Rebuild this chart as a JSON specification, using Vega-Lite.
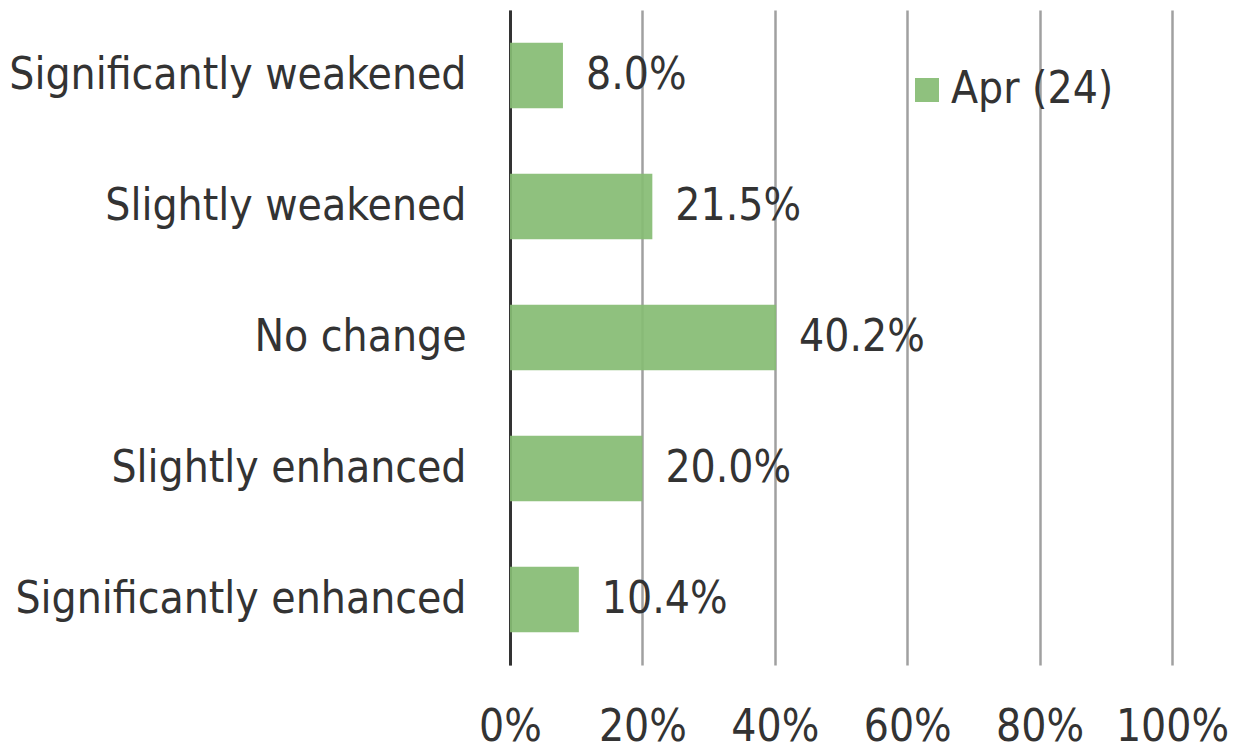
{
  "$schema": "https://vega.github.io/schema/vega-lite/v6.json",
  "autosize": {"type": "none"},
  "padding": {"left": 510, "top": 10, "right": 71, "bottom": 84},
  "width": 662,
  "height": 655,
  "background": "white",
  "config": {
    "view": {"stroke": null},
    "font": "DejaVu Sans Condensed"
  },
  "data": {
    "values": [
      {"category": "Significantly weakened", "series": "Apr (24)", "value": 0.080},
      {"category": "Slightly weakened", "series": "Apr (24)", "value": 0.215},
      {"category": "No change", "series": "Apr (24)", "value": 0.402},
      {"category": "Slightly enhanced", "series": "Apr (24)", "value": 0.200},
      {"category": "Significantly enhanced", "series": "Apr (24)", "value": 0.104}
    ]
  },
  "encoding": {
    "y": {
      "field": "category",
      "type": "nominal",
      "sort": null,
      "title": null,
      "scale": {"paddingInner": 0.5, "paddingOuter": 0.25},
      "axis": {
        "domainColor": "#333333",
        "domainWidth": 3,
        "ticks": false,
        "labelFont": "DejaVu Sans Condensed",
        "labelFontSize": 44,
        "labelColor": "#333333",
        "labelPadding": 44,
        "labelLimit": 600
      }
    },
    "x": {
      "field": "value",
      "type": "quantitative",
      "title": null,
      "scale": {"domain": [0, 1], "nice": false},
      "axis": {
        "format": ".0%",
        "values": [0, 0.2, 0.4, 0.6, 0.8, 1],
        "domain": false,
        "ticks": false,
        "grid": true,
        "gridColor": "#A0A0A0",
        "gridWidth": 2.5,
        "labelFont": "DejaVu Sans Condensed",
        "labelFontSize": 44,
        "labelColor": "#333333",
        "labelPadding": 40,
        "labelFlush": false
      }
    }
  },
  "layer": [
    {
      "mark": {"type": "bar", "opacity": 0.92},
      "encoding": {
        "color": {
          "field": "series",
          "type": "nominal",
          "scale": {"range": ["#85BC73"]},
          "legend": {
            "title": null,
            "orient": "none",
            "legendX": 395,
            "legendY": 58,
            "symbolType": "square",
            "symbolSize": 576,
            "symbolOpacity": 0.92,
            "symbolStrokeWidth": 0,
            "labelFont": "DejaVu Sans Condensed",
            "labelFontSize": 44,
            "labelColor": "#333333",
            "labelOffset": 2,
            "labelLimit": 400
          }
        }
      }
    },
    {
      "mark": {"type": "text", "align": "left", "baseline": "middle", "dx": 23, "fontSize": 44, "color": "#333333", "font": "DejaVu Sans Condensed"},
      "encoding": {
        "text": {"field": "value", "type": "quantitative", "format": ".1%"}
      }
    }
  ]
}
